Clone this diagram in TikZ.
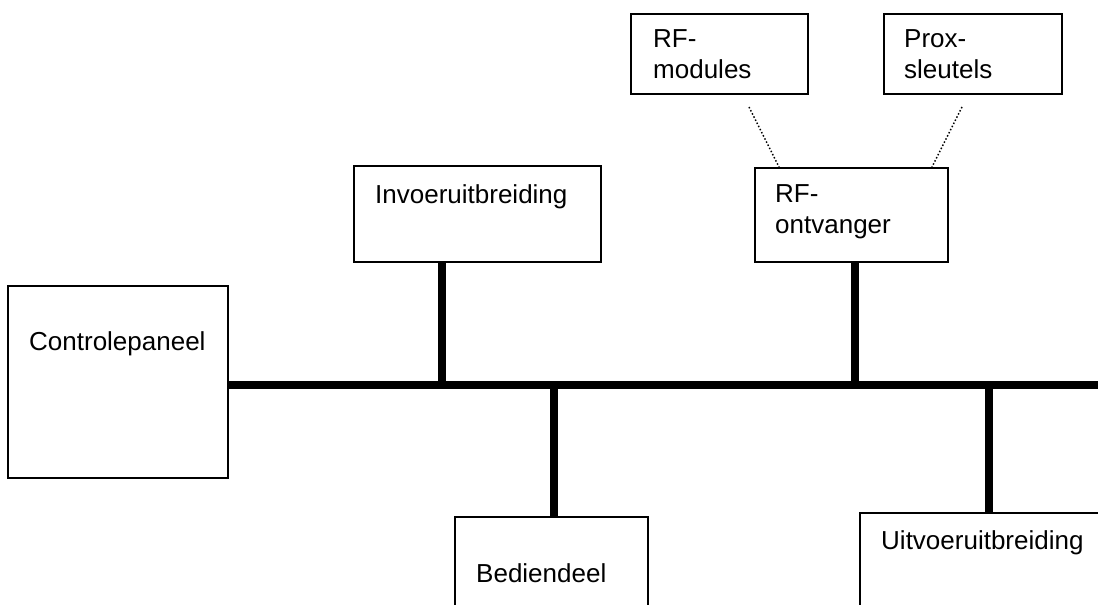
\documentclass[tikz,border=0pt]{standalone}
\usepackage{fontspec}
\setmainfont{Liberation Sans}
\usetikzlibrary{shapes,arrows,positioning}

\begin{document}
\begin{tikzpicture}[x=1pt,y=-1pt,
            unit box/.style={rectangle,draw,line width=1.6pt,inner sep=0pt,anchor=north west},
            unit label/.style={anchor=base west,inner sep=0pt,align=left,
             font=\fontsize{26}{31}\selectfont},
            bus line/.style={line width=8pt},
            radio link/.style={dotted,line width=1.5pt}]

            \clip (0,0) rectangle (1098,605);
            \fill[white] (0,0) rectangle (1098,605);

            \node[unit box, minimum width=220pt, minimum height=192pt] (Ctrl) at (7,285) {};
            \node[unit box, minimum width=247pt, minimum height=96pt] (Inv) at (353,165) {};
            \node[unit box, minimum width=177pt, minimum height=80pt] (RFmod) at (630,13) {};
            \node[unit box, minimum width=178pt, minimum height=80pt] (Prox) at (883,13) {};
            \node[unit box, minimum width=193pt, minimum height=94pt] (RFrec) at (754,167) {};
            \node[unit box, minimum width=193pt, minimum height=120pt] (Bed) at (454,516) {};
            \node[unit box, minimum width=260pt, minimum height=120pt] (Uit) at (859,512) {};

            \node[unit label] (CtrlTxt) at (29,350) {Controlepaneel};
            \node[unit label] (InvTxt) at (375,203) {Invoeruitbreiding};
            \node[unit label] (RFmodTxt) at (653,78) {RF-\\modules};
            \node[unit label] (ProxTxt) at (904,78) {Prox-\\sleutels};
            \node[unit label] (RFrecTxt) at (775,233) {RF-\\ontvanger};
            \node[unit label] (BedTxt) at (476,582) {Bediendeel};
            \node[unit label] (UitTxt) at (881,549) {Uitvoeruitbreiding};

            \coordinate (BusEnd) at (1098,385);
            \coordinate (InvTap) at (442,385);
            \coordinate (BedTap) at (554,385);
            \coordinate (RFrecTap) at (855,385);
            \coordinate (UitTap) at (989,385);
            \coordinate (RFmodLink) at (749,107);
            \coordinate (ProxLink) at (962,107);
            \coordinate (RFrecLeft) at (779,167);
            \coordinate (RFrecRight) at (932,167);

            \draw[bus line] (Ctrl.east |- BusEnd) -- (BusEnd);
            \draw[bus line] (InvTap |- Inv.south) -- (InvTap);
            \draw[bus line] (BedTap) -- (BedTap |- Bed.north);
            \draw[bus line] (RFrecTap |- RFrec.south) -- (RFrecTap);
            \draw[bus line] (UitTap) -- (UitTap |- Uit.north);

            \draw[radio link] (RFmodLink) -- (RFrecLeft);
            \draw[radio link] (ProxLink) -- (RFrecRight);

\end{tikzpicture}
\end{document}
